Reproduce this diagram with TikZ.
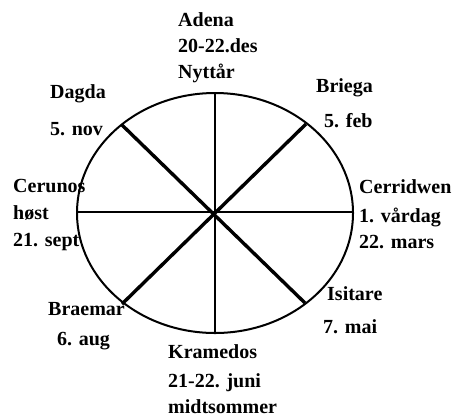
\documentclass[tikz,border=0pt]{standalone}
\usepackage{fontspec}
\setmainfont{Liberation Serif}
\begin{document}
\begin{tikzpicture}[x=1pt,y=-1pt,
  lbl/.style={anchor=base west,inner sep=0pt,font=\fontsize{20}{24}\selectfont\bfseries},
  rim/.style={line width=2pt},
  axis/.style={line width=2pt},
  diag/.style={line width=3.4pt}]
\useasboundingbox (0,0) rectangle (454,416);
% labels
\node[lbl] (adena1) at (178,26) {Adena};
\node[lbl] (adena2) at (178,52) {20-22.des};
\node[lbl] (adena3) at (178,78) {Nyttår};
\node[lbl] (dagda1) at (50,98) {Dagda};
\node[lbl] (dagda2) at (50,135) {5. nov};
\node[lbl] (briega1) at (316,92) {Briega};
\node[lbl] (briega2) at (324,127) {5. feb};
\node[lbl] (cerr1) at (359,193) {Cerridwen};
\node[lbl] (cerr2) at (359,222) {1. vårdag};
\node[lbl] (cerr3) at (359,248) {22. mars};
\node[lbl] (ceru1) at (13,192) {Cerunos};
\node[lbl] (ceru2) at (13,219) {høst};
\node[lbl] (ceru3) at (13,246) {21. sept};
\node[lbl] (brae1) at (48,315) {Braemar};
\node[lbl] (brae2) at (57,345) {6. aug};
\node[lbl] (isit1) at (327,300) {Isitare};
\node[lbl] (isit2) at (323,333) {7. mai};
\node[lbl] (kram1) at (168,358) {Kramedos};
\node[lbl] (kram2) at (168,387) {21-22. juni};
\node[lbl] (kram3) at (168,413) {midtsommer};
% wheel
\coordinate (c) at (215,213);
\coordinate (top) at (215,93);
\coordinate (bot) at (215,333);
\coordinate (lft) at (77,212);
\coordinate (rgt) at (353,212);
\coordinate (pdagda) at (122,125);
\coordinate (pbriega) at (306,124);
\coordinate (pbraemar) at (122,304);
\coordinate (pisitare) at (305,303);
\draw[axis] (top) -- (bot);
\draw[axis] (lft) -- (rgt);
\draw[diag] (pdagda) -- (pisitare);
\draw[diag] (pbriega) -- (pbraemar);
\draw[rim] (c) ellipse [x radius=138pt, y radius=120pt];
\end{tikzpicture}
\end{document}
